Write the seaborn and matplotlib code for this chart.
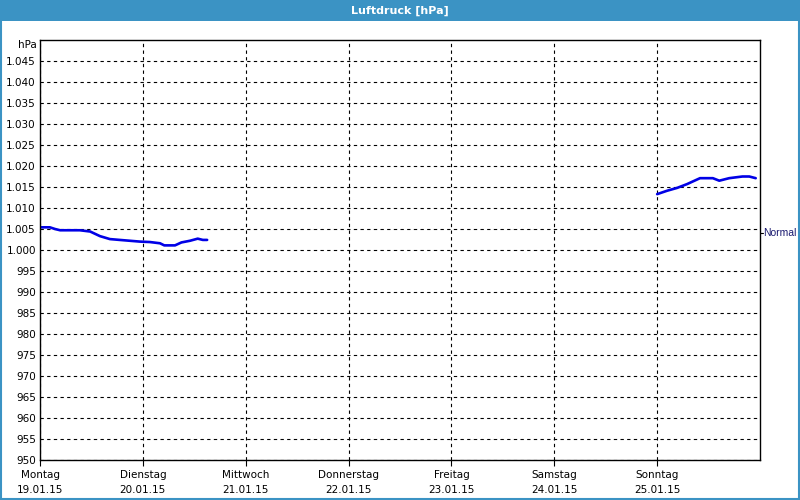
import pandas as pd
import numpy as np
import matplotlib
matplotlib.use('Agg')
import matplotlib.pyplot as plt
import seaborn as sns
from matplotlib.patches import Rectangle
from matplotlib.ticker import FuncFormatter

# Stunden ab Montag 0:00, Luftdruck in hPa
stunden_1 = [0, 2.3, 3.5, 4.7, 9.3, 11.7, 14, 16.3, 18.6, 23.3, 25.6, 28, 29, 31.5, 33, 35, 36.8, 38, 39]
druck_1 = [1005.4, 1005.4, 1005.0, 1004.7, 1004.7, 1004.4, 1003.3, 1002.6, 1002.4, 1002.0,
           1001.9, 1001.6, 1001.1, 1001.1, 1001.8, 1002.2, 1002.7, 1002.4, 1002.4]
stunden_2 = [144, 146.3, 148.7, 151, 154, 157, 158.5, 160.8, 163.9, 165.5, 167]
druck_2 = [1013.3, 1014.1, 1014.8, 1015.7, 1017.1, 1017.1, 1016.5, 1017.1, 1017.5, 1017.5, 1017.1]

tage = ['Montag', 'Dienstag', 'Mittwoch', 'Donnerstag', 'Freitag', 'Samstag', 'Sonntag']
daten = ['19.01.15', '20.01.15', '21.01.15', '22.01.15', '23.01.15', '24.01.15', '25.01.15']
normal = 1004.0

df = pd.concat([
    pd.DataFrame({'tag': np.array(stunden_1) / 24, 'hpa': druck_1, 'seg': 1}),
    pd.DataFrame({'tag': np.array(stunden_2) / 24, 'hpa': druck_2, 'seg': 2}),
])

sns.set_style('white')
plt.rcParams['font.family'] = ['DejaVu Sans']
plt.rcParams['text.color'] = 'black'
plt.rcParams['xtick.color'] = 'black'
plt.rcParams['ytick.color'] = 'black'

fig = plt.figure(figsize=(8, 5), dpi=100)
fig.patch.set_facecolor('white')
blau = '#3b93c4'
fig.patches.append(Rectangle((0, 1 - 21 / 500), 1, 21 / 500, transform=fig.transFigure,
                             facecolor=blau, edgecolor='none', zorder=0))
fig.patches.append(Rectangle((0.001, 0.002), 0.998, 0.996, transform=fig.transFigure,
                             fill=False, edgecolor=blau, linewidth=1.5, zorder=0))
fig.text(0.5, 1 - 10.5 / 500, 'Luftdruck [hPa]', color='white', fontsize=8, fontweight='bold',
         ha='center', va='center')

ax = fig.add_axes([40 / 800, 40 / 500, 720 / 800, 420 / 500])
sns.lineplot(data=df, x='tag', y='hpa', units='seg', estimator=None, color='#0000e6',
             linewidth=1.9, ax=ax)

ax.set_xlim(0, 7)
ax.set_ylim(950, 1050)
ax.set_xticks(range(7))
ax.set_xticklabels([t + '\n' + d for t, d in zip(tage, daten)], fontsize=7.5, linespacing=1.6)
ax.set_yticks(range(950, 1050, 5))
ax.yaxis.set_major_formatter(FuncFormatter(lambda v, p: f'{int(v):,}'.replace(',', '.')))
ax.tick_params(axis='y', labelsize=7.5, length=0, pad=3)
ax.tick_params(axis='x', length=4, width=0.8, pad=3, direction='out', bottom=True)
ax.grid(True, color='black', linestyle=(0, (3, 3)), linewidth=0.8)
for s in ax.spines.values():
    s.set_color('black')
    s.set_linewidth(1)
ax.set_xlabel('')
ax.set_ylabel('')
ax.text(-0.004, 1048.8, 'hPa', transform=ax.get_yaxis_transform(), fontsize=7.5,
        ha='right', va='center')

# Normal-Markierung rechts
ax.plot([1, 1.004], [normal, normal], transform=ax.get_yaxis_transform(), color='black',
        linewidth=0.8, clip_on=False)
ax.text(1.005, normal, 'Normal', transform=ax.get_yaxis_transform(), fontsize=7.5,
        family=['Liberation Sans', 'DejaVu Sans'], color='#1a1a70', ha='left', va='center')

fig.savefig('out.png', dpi=100)
